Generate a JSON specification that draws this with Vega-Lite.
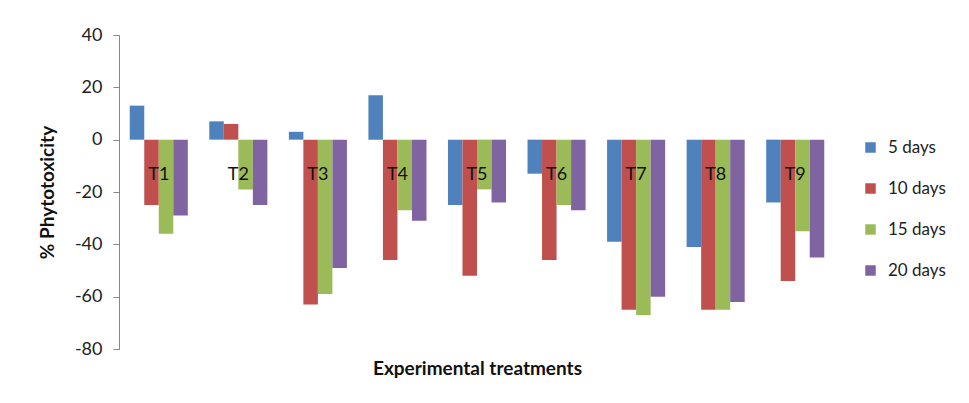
{
  "$schema": "https://vega.github.io/schema/vega-lite/v6.json",
  "width": 716,
  "height": 314,
  "autosize": {"type": "none"},
  "padding": {"left": 119, "top": 35, "right": 134, "bottom": 54},
  "background": "#ffffff",
  "config": {
    "font": "Lato",
    "view": {"stroke": null},
    "axis": {"labelFont": "Lato", "titleFont": "Lato"},
    "legend": {"labelFont": "Lato"}
  },
  "datasets": {
    "phyto": [
      {"t": "T1", "s": "5 days", "v": 13}, {"t": "T1", "s": "10 days", "v": -25}, {"t": "T1", "s": "15 days", "v": -36}, {"t": "T1", "s": "20 days", "v": -29},
      {"t": "T2", "s": "5 days", "v": 7}, {"t": "T2", "s": "10 days", "v": 6}, {"t": "T2", "s": "15 days", "v": -19}, {"t": "T2", "s": "20 days", "v": -25},
      {"t": "T3", "s": "5 days", "v": 3}, {"t": "T3", "s": "10 days", "v": -63}, {"t": "T3", "s": "15 days", "v": -59}, {"t": "T3", "s": "20 days", "v": -49},
      {"t": "T4", "s": "5 days", "v": 17}, {"t": "T4", "s": "10 days", "v": -46}, {"t": "T4", "s": "15 days", "v": -27}, {"t": "T4", "s": "20 days", "v": -31},
      {"t": "T5", "s": "5 days", "v": -25}, {"t": "T5", "s": "10 days", "v": -52}, {"t": "T5", "s": "15 days", "v": -19}, {"t": "T5", "s": "20 days", "v": -24},
      {"t": "T6", "s": "5 days", "v": -13}, {"t": "T6", "s": "10 days", "v": -46}, {"t": "T6", "s": "15 days", "v": -25}, {"t": "T6", "s": "20 days", "v": -27},
      {"t": "T7", "s": "5 days", "v": -39}, {"t": "T7", "s": "10 days", "v": -65}, {"t": "T7", "s": "15 days", "v": -67}, {"t": "T7", "s": "20 days", "v": -60},
      {"t": "T8", "s": "5 days", "v": -41}, {"t": "T8", "s": "10 days", "v": -65}, {"t": "T8", "s": "15 days", "v": -65}, {"t": "T8", "s": "20 days", "v": -62},
      {"t": "T9", "s": "5 days", "v": -24}, {"t": "T9", "s": "10 days", "v": -54}, {"t": "T9", "s": "15 days", "v": -35}, {"t": "T9", "s": "20 days", "v": -45}
    ],
    "treatments": [
      {"t": "T1"}, {"t": "T2"}, {"t": "T3"}, {"t": "T4"}, {"t": "T5"}, {"t": "T6"}, {"t": "T7"}, {"t": "T8"}, {"t": "T9"}
    ]
  },
  "encoding": {
    "x": {
      "field": "t",
      "type": "nominal",
      "sort": ["T1", "T2", "T3", "T4", "T5", "T6", "T7", "T8", "T9"],
      "scale": {"paddingInner": 0.27, "paddingOuter": 0.135},
      "axis": {
        "title": "Experimental treatments",
        "titleFontSize": 19,
        "titleFontWeight": "bold",
        "titleColor": "#111111",
        "titlePadding": 10,
        "labels": false,
        "ticks": false,
        "domain": false
      }
    }
  },
  "layer": [
    {
      "data": {"name": "phyto"},
      "mark": {"type": "bar"},
      "encoding": {
        "xOffset": {
          "field": "s",
          "type": "nominal",
          "sort": ["5 days", "10 days", "15 days", "20 days"],
          "scale": {"paddingInner": 0, "paddingOuter": 0}
        },
        "y": {
          "field": "v",
          "type": "quantitative",
          "scale": {"domain": [-80, 40], "nice": false},
          "axis": {
            "title": "% Phytotoxicity",
            "titleFontSize": 19,
            "titleFontWeight": "bold",
            "titleColor": "#111111",
            "titlePadding": 17,
            "values": [-80, -60, -40, -20, 0, 20, 40],
            "labelExpr": "toString(datum.value)",
            "labelFontSize": 18,
            "labelColor": "#222222",
            "labelPadding": 11,
            "tickSize": 6,
            "tickColor": "#868686",
            "domainColor": "#868686",
            "grid": false
          }
        },
        "color": {
          "field": "s",
          "type": "nominal",
          "scale": {
            "domain": ["5 days", "10 days", "15 days", "20 days"],
            "range": ["#4F81BD", "#C0504D", "#9BBB59", "#8064A2"]
          },
          "legend": {
            "title": null,
            "orient": "none",
            "legendX": 743,
            "legendY": 104,
            "symbolType": "square",
            "symbolSize": 110,
            "symbolStrokeWidth": 0,
            "symbolOpacity": 1,
            "labelFontSize": 17,
            "labelColor": "#222222",
            "labelOffset": 9,
            "rowPadding": 23
          }
        }
      }
    },
    {
      "data": {"name": "phyto"},
      "mark": {"type": "rule", "color": "#868686", "strokeWidth": 1.5},
      "encoding": {"y": {"datum": 0}}
    },
    {
      "data": {"name": "treatments"},
      "mark": {"type": "text", "fontSize": 18, "color": "#111111", "baseline": "middle"},
      "encoding": {
        "y": {"datum": -13.5},
        "text": {"field": "t"}
      }
    }
  ]
}
